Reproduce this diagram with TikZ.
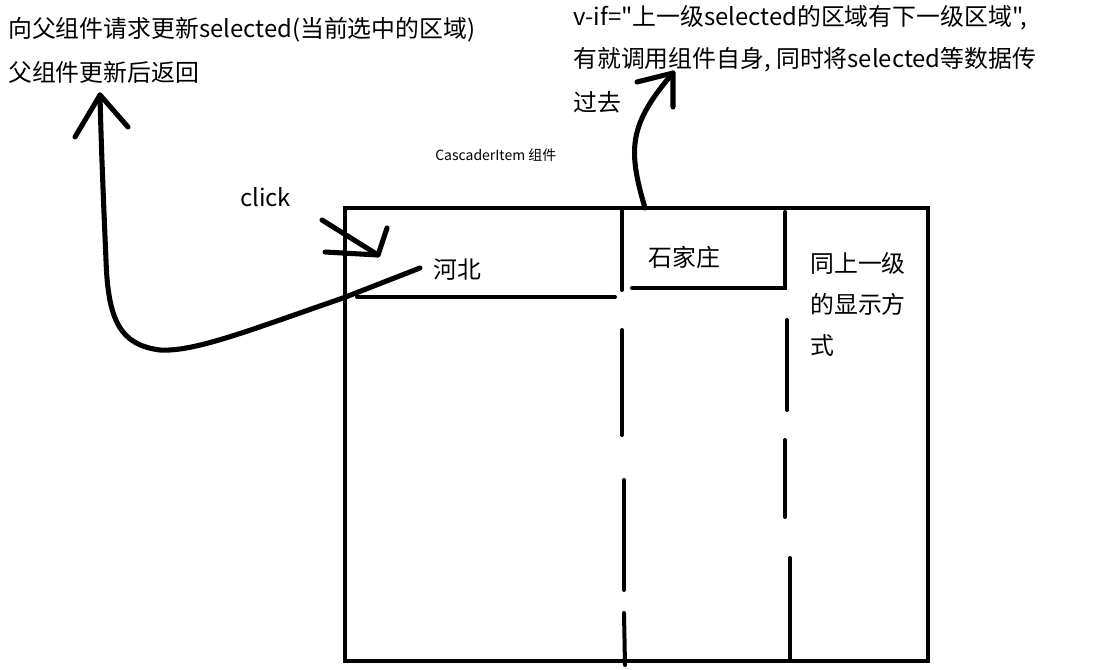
\documentclass[tikz,border=0pt]{standalone}
\usepackage{fontspec}
\newfontfamily\zh{Noto Sans CJK SC}
\begin{document}
\begin{tikzpicture}[x=0.75pt,y=-0.75pt,
  lbl/.style={inner sep=0pt, anchor=west, font=\zh\fontsize{17.9pt}{20pt}\selectfont},
  smalllbl/.style={inner sep=0pt, anchor=west, font=\zh\fontsize{10.5pt}{12pt}\selectfont},
  frame/.style={line width=3pt, line cap=round},
  pen/.style={line width=3.8pt, line cap=round, line join=round}]
\useasboundingbox (0,0) rectangle (1111,669);
% texts
\node[lbl] (t1) at (8,30) {向父组件请求更新selected(当前选中的区域)};
\node[lbl] (t2) at (8,72) {父组件更新后返回};
\node[lbl] (r1) at (573,18) {v-if="上一级selected的区域有下一级区域",};
\node[lbl] (r2) at (573,60) {有就调用组件自身, 同时将selected等数据传};
\node[lbl] (r3) at (573,102) {过去};
\node[smalllbl] (comp) at (435,155) {CascaderItem 组件};
\node[lbl] (click) at (240,197) {click};
\node[lbl] (hebei) at (433,270) {河北};
\node[lbl] (sjz) at (648,257) {石家庄};
\node[lbl] (s1) at (810,263) {同上一级};
\node[lbl] (s2) at (810,304) {的显示方};
\node[lbl] (s3) at (810,345) {式};
% frame
\draw[frame] (345,208) rectangle (928,661);
\draw[frame] (622,208) -- (622,290);
\draw[frame] (622,330) -- (622,435);
\draw[frame] (624,480) -- (624,590);
\draw[frame] (624,613) -- (625,665);
\draw[frame] (357,297) -- (615,297);
\draw[frame] (632,288) -- (785,288) -- (785,212);
\draw[frame] (787,320) -- (787,410);
\draw[frame] (785,440) -- (785,517);
\draw[frame] (790,558) -- (790,661);
% arrows
\coordinate (a1s) at (420,268);
\coordinate (a1t) at (100,95);
\draw[pen] (a1s) -- (343,298) .. controls (250,330) and (195,352) .. (160,350)
  .. controls (120,345) and (108,320) .. (106,260) .. controls (103,190) and (101,140) .. (a1t);
\draw[pen] (75,137) -- (a1t) -- (128,127);
\coordinate (cks) at (322,220);
\coordinate (ckt) at (378,255);
\draw[pen] (cks) -- (ckt);
\draw[pen] (325,252) -- (ckt) -- (387,228);
\coordinate (a3s) at (645,208);
\coordinate (a3t) at (673,73);
\draw[pen] (a3s) .. controls (628,150) and (628,125) .. (a3t);
\draw[pen] (637,82) -- (a3t) -- (673,107);
\end{tikzpicture}
\end{document}
